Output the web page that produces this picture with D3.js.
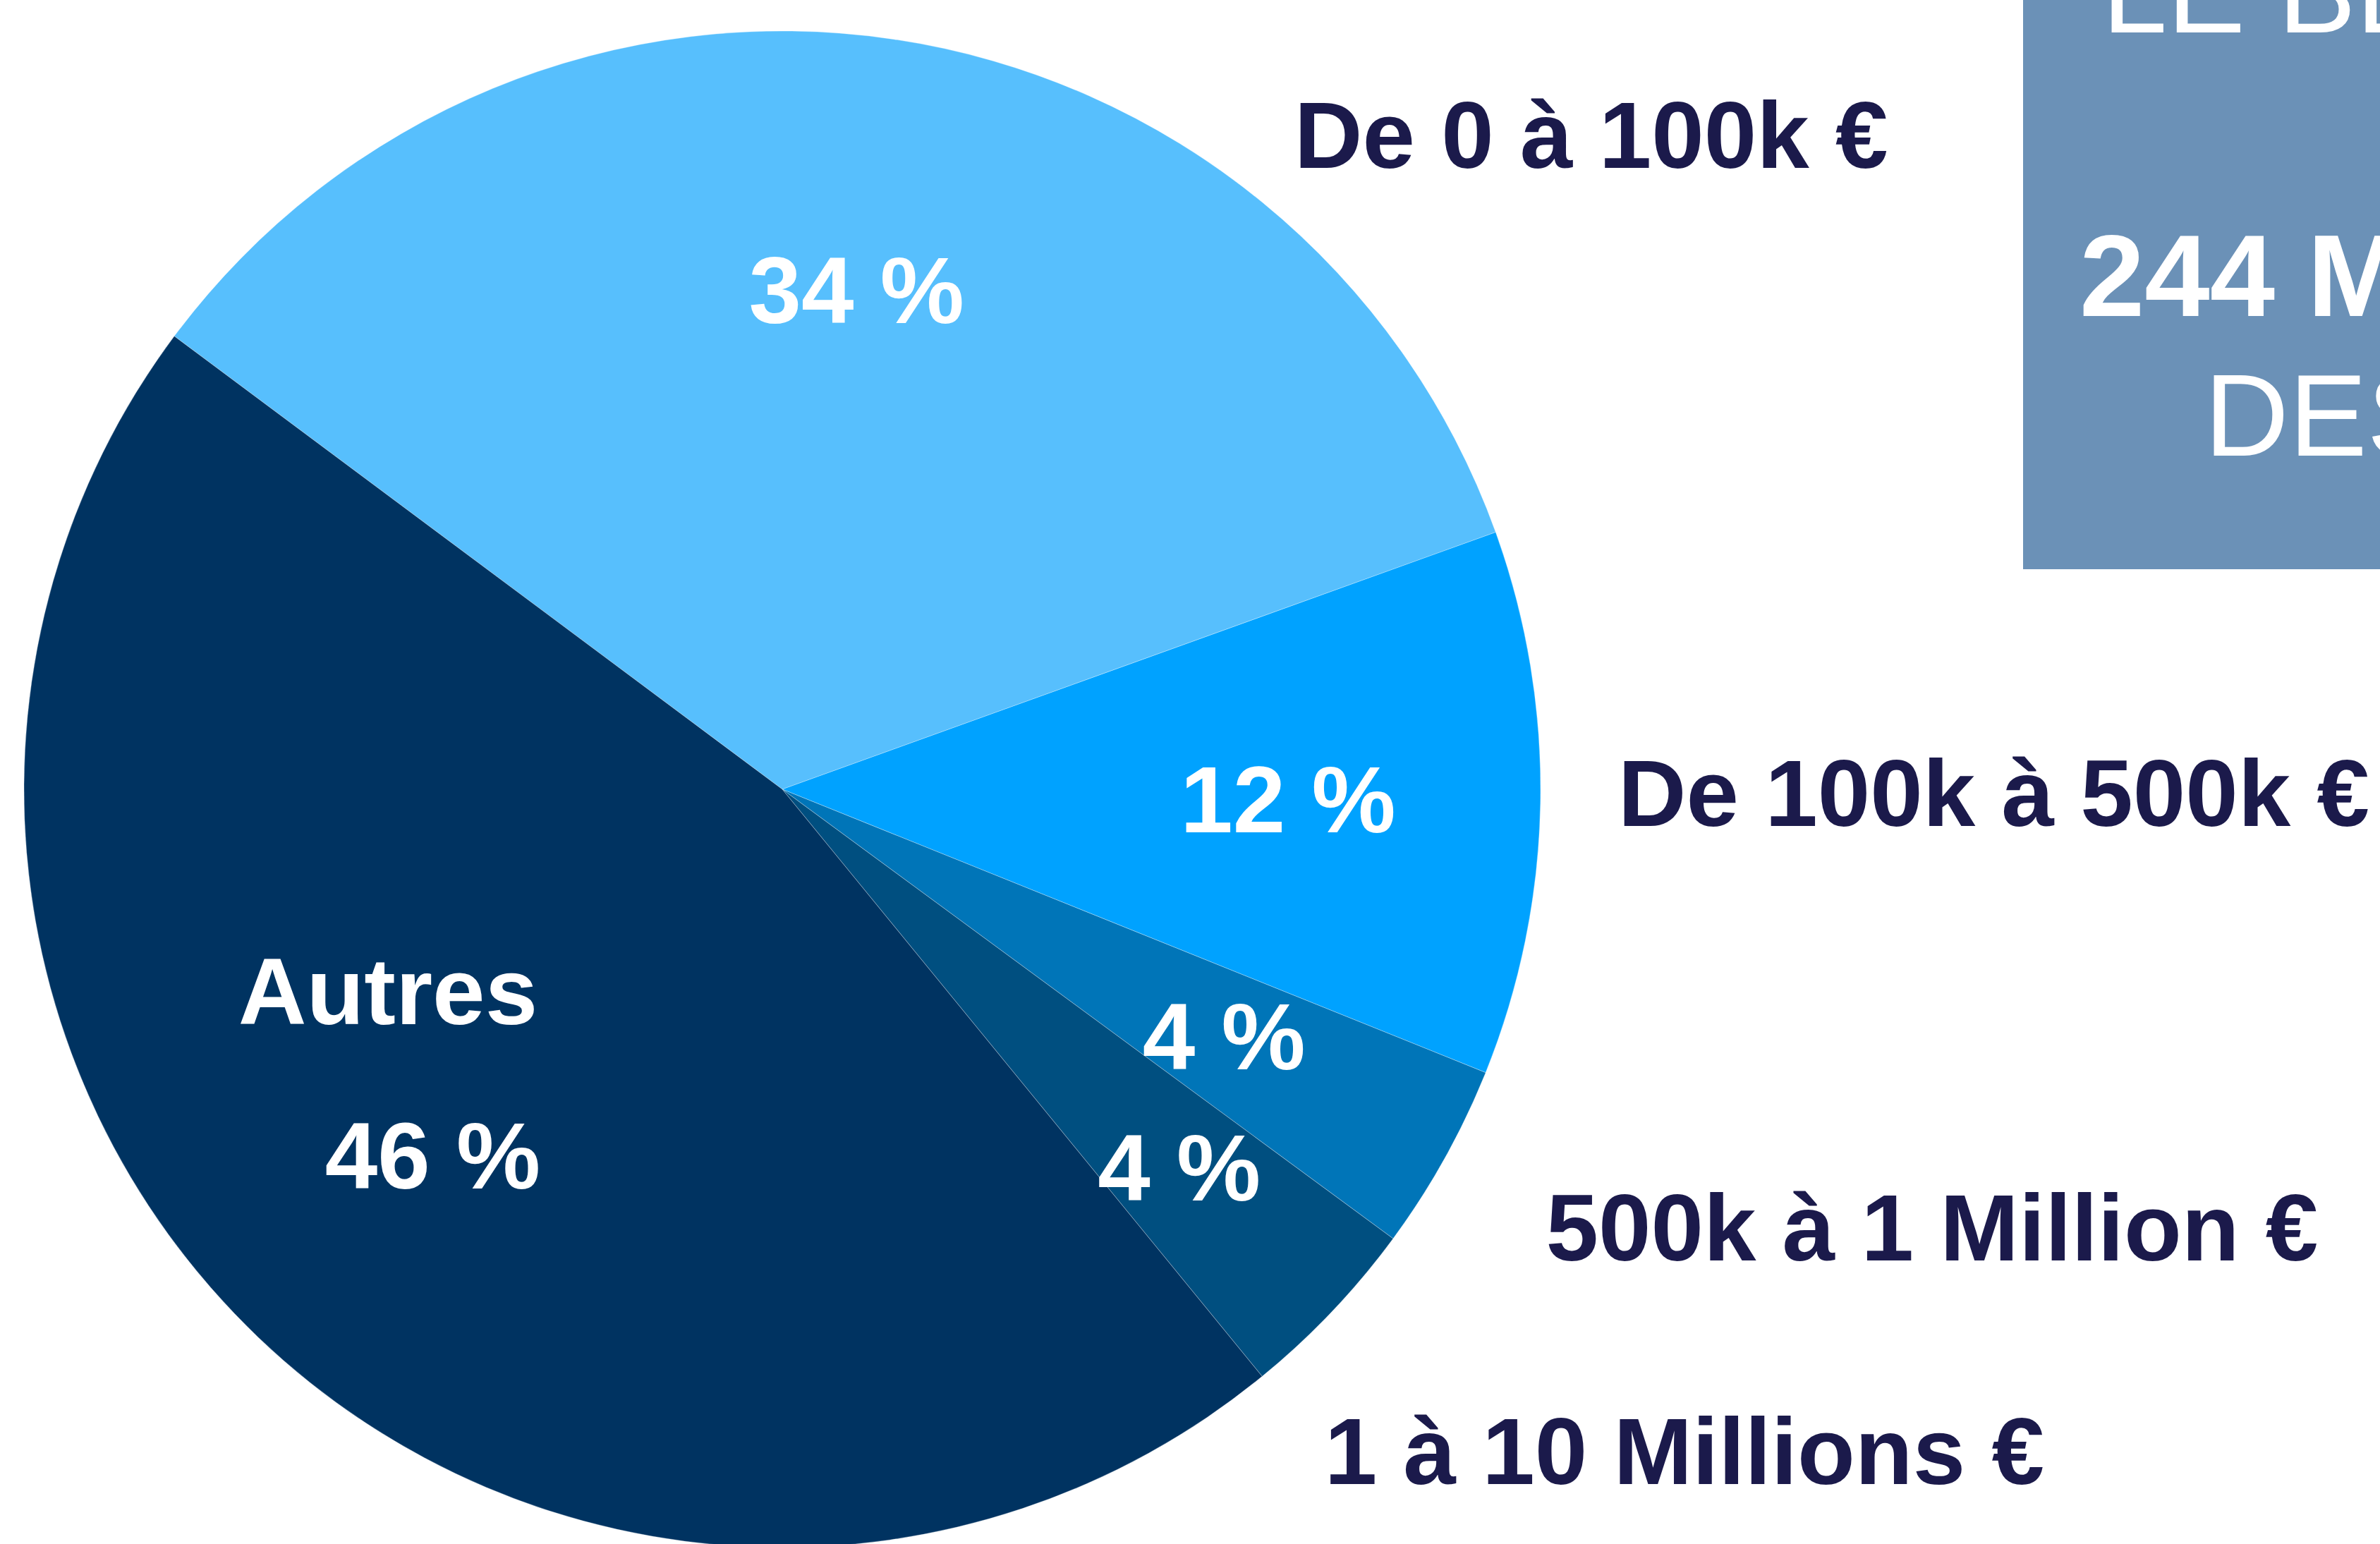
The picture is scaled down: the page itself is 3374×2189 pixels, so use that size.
<!DOCTYPE html>
<html lang="fr">
<head>
<meta charset="utf-8">
<script src="https://cdn.jsdelivr.net/npm/d3@7"></script>
<style>
  html, body { margin: 0; padding: 0; overflow: hidden; background: #fff; }
  svg { display: block; font-family: "Liberation Sans", Arial, Helvetica, sans-serif; }
</style>
</head>
<body>
<svg id="chart"></svg>
<script>
// categories and shares (%)
const categories = ['De 0 à 100k €', 'De 100k à 500k €', '500k à 1 Million €', '1 à 10 Millions €', 'Autres'];
const shares = [34.3, 11.6, 4.0, 4.0, 46.1];
const sliceColors = ['#57bffd', '#00a2ff', '#0075b8', '#004f80', '#003361'];
// text of the side box (cut by the right edge)
const boxLines = ['LE BESOIN', '244 MILLIONS', 'DES ENTREPRISES'];

const width = 3374, height = 2189;
const cx = 1109, cy = 1119, R = 1075;
const fontSize = 134;
const navy = '#1b1a4b';

const svg = d3.select('#chart')
    .attr('width', width)
    .attr('height', height);

const data = categories.map((c, i) => ({ name: c, value: shares[i], color: sliceColors[i] }));

const pie = d3.pie()
    .sort(null)
    .value(d => d.value)
    .startAngle(-53.3 * Math.PI / 180)
    .endAngle((360 - 53.3) * Math.PI / 180);

const arcs = pie(data);
const arc = d3.arc().innerRadius(0).outerRadius(R);

const g = svg.append('g')
    .attr('transform', 'translate(' + cx + ',' + cy + ')');

g.selectAll('path.slice')
    .data(arcs)
    .enter()
    .append('path')
    .attr('class', 'slice')
    .attr('d', arc)
    .attr('fill', d => d.data.color)
    .attr('stroke', '#ffffff')
    .attr('stroke-opacity', 0.3)
    .attr('stroke-width', 1);

// percentage labels, centred on the centroid of an inner arc
const capHalf = fontSize * 0.716 / 2;
const labelArc = d3.arc().innerRadius(R * 0.667).outerRadius(R * 0.667);
// the second small slice gets pushed outward a little (like the original)
const pushedArc = d3.arc().innerRadius(R * 0.722).outerRadius(R * 0.722);

const pctLabels = g.selectAll('text.pct')
    .data(arcs)
    .enter()
    .append('text')
    .attr('class', 'pct')
    .attr('text-anchor', 'middle')
    .attr('font-weight', 'bold')
    .attr('font-size', fontSize)
    .attr('fill', '#ffffff')
    .attr('x', (d, i) => (i === 3 ? pushedArc : labelArc).centroid(d)[0])
    .attr('y', (d, i) => (i === 3 ? pushedArc : labelArc).centroid(d)[1] + capHalf)
    .text(d => Math.round(d.data.value) + ' %');

// "Autres" is written inside its slice, right aligned above its value
const lastIdx = arcs.length - 1;
const lastNode = pctLabels.nodes()[lastIdx];
const lastBox = lastNode.getBBox();
g.append('text')
    .attr('text-anchor', 'end')
    .attr('font-weight', 'bold')
    .attr('font-size', fontSize)
    .attr('fill', '#ffffff')
    .attr('x', lastBox.x + lastBox.width - 4)
    .attr('y', +d3.select(lastNode).attr('y') - 233)
    .text(categories[lastIdx]);

// outside category labels, placed relative to the pie (fractions of R)
const outside = [[0.675, -0.820], [1.102, 0.048], [1.007, 0.621], [0.715, 0.916]];
g.selectAll('text.cat')
    .data(arcs.slice(0, 4))
    .enter()
    .append('text')
    .attr('class', 'cat')
    .attr('font-weight', 'bold')
    .attr('font-size', fontSize)
    .attr('fill', navy)
    .attr('x', (d, i) => outside[i][0] * R)
    .attr('y', (d, i) => outside[i][1] * R)
    .text(d => d.data.name);

// side box on the right
const box = svg.append('g');
box.append('rect')
    .attr('x', 2868)
    .attr('y', -10)
    .attr('width', width - 2868 + 10)
    .attr('height', 807 + 10)
    .attr('fill', '#6b91b7');

box.append('text')
    .attr('x', 2980).attr('y', 46)
    .attr('font-size', 166)
    .attr('fill', '#ffffff')
    .text(boxLines[0]);
box.append('text')
    .attr('x', 2948).attr('y', 448)
    .attr('font-size', 166)
    .attr('font-weight', 'bold')
    .attr('fill', '#ffffff')
    .text(boxLines[1]);
box.append('text')
    .attr('x', 3125).attr('y', 646)
    .attr('font-size', 166)
    .attr('fill', '#ffffff')
    .text(boxLines[2]);
</script>
</body>
</html>
